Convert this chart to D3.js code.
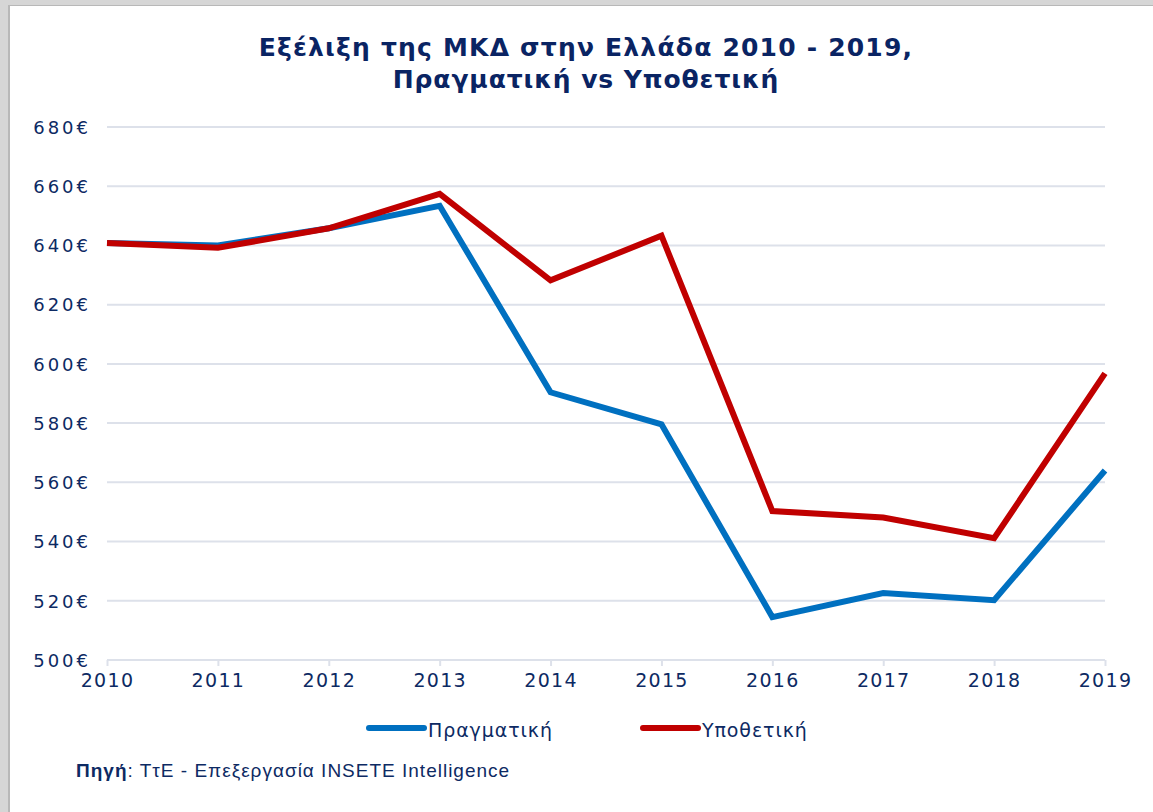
<!DOCTYPE html>
<html>
<head>
<meta charset="utf-8">
<script src="https://cdn.jsdelivr.net/npm/d3@7"></script>
<style>
  html, body { margin: 0; padding: 0; background: #d6d6d6; }
  svg { display: block; }
</style>
</head>
<body>
<svg id="chart" width="1153" height="812"></svg>
<script>
// --- Data ---
const years = [2010, 2011, 2012, 2013, 2014, 2015, 2016, 2017, 2018, 2019];
const actual = [640.8, 640.0, 645.8, 653.4, 590.4, 579.6, 514.5, 522.6, 520.2, 564.0];
const hypothetical = [640.8, 639.2, 645.8, 657.4, 628.2, 643.3, 550.3, 548.1, 541.1, 596.8];
const yTicks = [500, 520, 540, 560, 580, 600, 620, 640, 660, 680];
const seriesNames = ["Πραγματική", "Υποθετική"];
const titleLines = ["Εξέλιξη της ΜΚΔ στην Ελλάδα 2010 - 2019,", "Πραγματική vs Υποθετική"];

// --- Setup ---
const svg = d3.select("#chart");
const navy = "#0d2a63";
const colors = ["#0070c0", "#c00000"];
const font = "'DejaVu Sans', Verdana, sans-serif";

// panel frame (grey strip top & left like the screenshot)
svg.append("rect").attr("x", 0).attr("y", 0).attr("width", 1153).attr("height", 812).attr("fill", "#d6d6d6");
svg.append("rect").attr("x", 8).attr("y", 5).attr("width", 1145).attr("height", 807).attr("fill", "#b8b8b8");
svg.append("rect").attr("x", 10).attr("y", 6).attr("width", 1143).attr("height", 806).attr("fill", "#ffffff");

const x = d3.scaleLinear().domain([2010, 2019]).range([107, 1105]);
const y = d3.scaleLinear().domain([500, 680]).range([660, 127]);

// --- Title ---
svg.append("g").selectAll("text")
    .data(titleLines)
    .join("text")
    .attr("x", 586)
    .attr("y", (d, i) => 56 + i * 32)
    .attr("text-anchor", "middle")
    .attr("font-family", font)
    .attr("font-weight", "bold")
    .attr("font-size", 25)
    .attr("letter-spacing", (d, i) => i === 0 ? 1.2 : 0.9)
    .attr("fill", "#0a2463")
    .text(d => d);

// --- Gridlines ---
svg.append("g")
    .selectAll("line")
    .data(yTicks)
    .join("line")
    .attr("x1", 107)
    .attr("x2", 1105)
    .attr("y1", d => y(d))
    .attr("y2", d => y(d))
    .attr("stroke", "#dde1ea")
    .attr("stroke-width", 2);

// --- Y axis labels ---
const yAxis = svg.append("g")
    .attr("transform", "translate(91,0)")
    .call(d3.axisLeft(y).tickValues(yTicks).tickSize(0).tickPadding(0).tickFormat(d => d + "€"));
yAxis.select(".domain").remove();
yAxis.selectAll("text")
    .attr("font-family", font)
    .attr("font-size", 18)
    .attr("letter-spacing", 3)
    .attr("fill", navy)
    .attr("dy", "0.35em");

// --- X axis ---
const xAxis = svg.append("g")
    .attr("transform", `translate(0,${y(500)})`)
    .call(d3.axisBottom(x).tickValues(years).tickSize(6).tickPadding(8).tickFormat(d3.format("d")));
xAxis.select(".domain")
    .attr("stroke", "#dde1ea")
    .attr("stroke-width", 2)
    .attr("d", `M${x(2010)},0H${x(2019)}`);
xAxis.selectAll(".tick line").attr("stroke", "#dde1ea").attr("stroke-width", 2);
xAxis.selectAll("text")
    .attr("font-family", font)
    .attr("font-size", 19)
    .attr("letter-spacing", 1.3)
    .attr("fill", navy);

// --- Lines ---
const line = d3.line()
    .x((d, i) => x(years[i]))
    .y(d => y(d));

svg.append("g")
    .selectAll("path")
    .data([actual, hypothetical])
    .join("path")
    .attr("d", line)
    .attr("fill", "none")
    .attr("stroke", (d, i) => colors[i])
    .attr("stroke-width", 6)
    .attr("stroke-linejoin", "miter");

// --- Legend ---
const legendX = [367, 641];
const legend = svg.append("g")
    .selectAll("g")
    .data(seriesNames)
    .join("g")
    .attr("transform", (d, i) => `translate(${legendX[i]},728)`);
legend.append("line")
    .attr("x1", 2).attr("x2", 57)
    .attr("stroke", (d, i) => colors[i])
    .attr("stroke-width", 6)
    .attr("stroke-linecap", "round");
legend.append("text")
    .attr("x", 61)
    .attr("y", 9)
    .attr("font-family", font)
    .attr("font-size", 19)
    .attr("letter-spacing", 0.9)
    .attr("fill", navy)
    .text(d => d);

// --- Source note ---
const src = svg.append("text")
    .attr("x", 76)
    .attr("y", 777)
    .attr("font-family", "'Liberation Sans', Arial, sans-serif")
    .attr("font-size", 19)
    .attr("letter-spacing", 1.0)
    .attr("fill", navy);
src.append("tspan").attr("font-weight", "bold").text("Πηγή");
src.append("tspan").text(": ΤτΕ - Επεξεργασία INSETE Intelligence");
</script>
</body>
</html>
